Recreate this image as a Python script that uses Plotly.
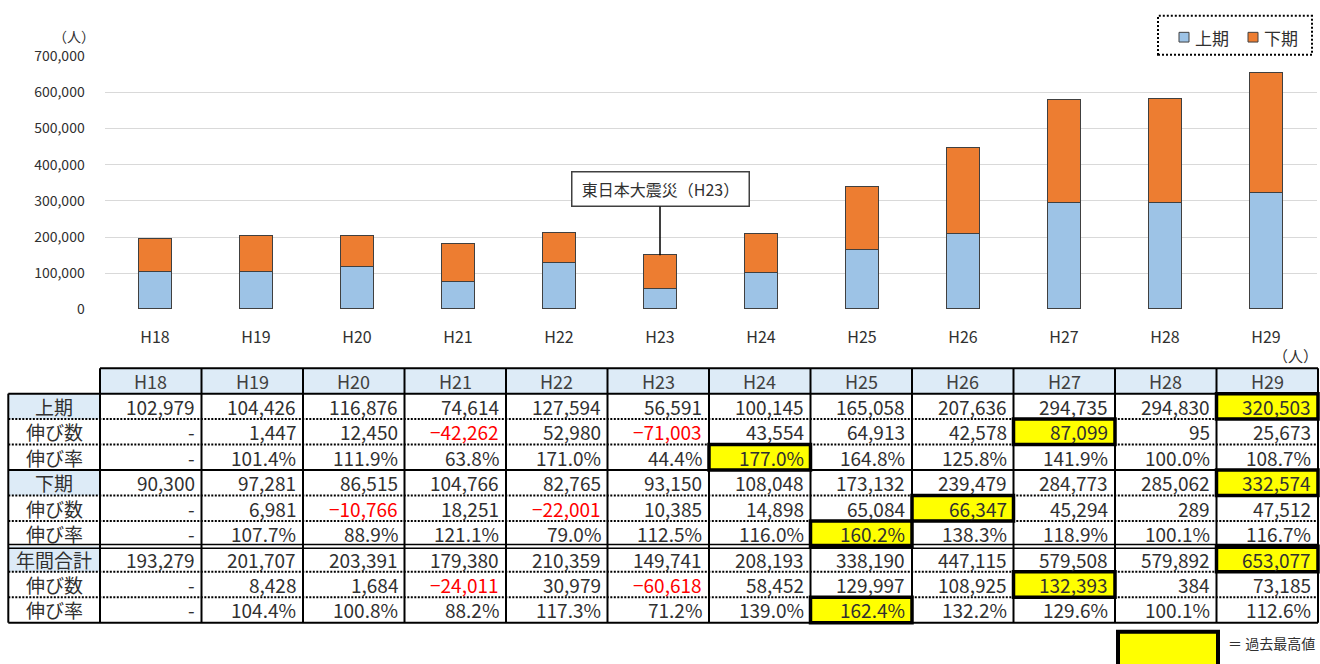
import plotly.graph_objects as go
import numpy as np

# ---------------- data ----------------
years = ['H18', 'H19', 'H20', 'H21', 'H22', 'H23', 'H24', 'H25', 'H26', 'H27', 'H28', 'H29']
kami = [102979, 104426, 116876, 74614, 127594, 56591, 100145, 165058, 207636, 294735, 294830, 320503]
kami_diff = [None, 1447, 12450, -42262, 52980, -71003, 43554, 64913, 42578, 87099, 95, 25673]
kami_rate = [None, 101.4, 111.9, 63.8, 171.0, 44.4, 177.0, 164.8, 125.8, 141.9, 100.0, 108.7]
shimo = [90300, 97281, 86515, 104766, 82765, 93150, 108048, 173132, 239479, 284773, 285062, 332574]
shimo_diff = [None, 6981, -10766, 18251, -22001, 10385, 14898, 65084, 66347, 45294, 289, 47512]
shimo_rate = [None, 107.7, 88.9, 121.1, 79.0, 112.5, 116.0, 160.2, 138.3, 118.9, 100.1, 116.7]
total = [193279, 201707, 203391, 179380, 210359, 149741, 208193, 338190, 447115, 579508, 579892, 653077]
total_diff = [None, 8428, 1684, -24011, 30979, -60618, 58452, 129997, 108925, 132393, 384, 73185]
total_rate = [None, 104.4, 100.8, 88.2, 117.3, 71.2, 139.0, 162.4, 132.2, 129.6, 100.1, 112.6]

row_labels = ['上期', '伸び数', '伸び率', '下期', '伸び数', '伸び率', '年間合計', '伸び数', '伸び率']
row_values = [kami, kami_diff, kami_rate, shimo, shimo_diff, shimo_rate, total, total_diff, total_rate]
row_kinds = ['num', 'num', 'pct', 'num', 'num', 'pct', 'num', 'num', 'pct']
main_rows = [0, 3, 6]
series_names = ['上期', '下期']

W, H = 1320, 664
FONT = '"Noto Sans CJK JP", "Noto Sans", sans-serif'
TXT = '#303030'
BLUE = '#9DC3E6'
ORANGE = '#ED7D31'
HEAD = '#DDEBF7'
YEL = '#FFFF00'
EDGE = '#404040'


def px_x(p):
    return p / W


def px_y(p):
    return 1 - p / H


fig = go.Figure()
fig.add_trace(go.Bar(x=years, y=kami, name=series_names[0], width=0.32, showlegend=False,
                     marker=dict(color=BLUE, line=dict(color=EDGE, width=1)),
                     xaxis='x', yaxis='y'))
fig.add_trace(go.Bar(x=years, y=shimo, name=series_names[1], width=0.32, showlegend=False,
                     marker=dict(color=ORANGE, line=dict(color=EDGE, width=1)),
                     xaxis='x', yaxis='y'))

# ---------------- table geometry (axis x2 / y2) ----------------
col_w = 101.5
x_left_px = 100.0
row_h = 26.24
y_top_px = 368.3
label_left = -(x_left_px - 8.3) / col_w
x2_range = [-x_left_px / col_w, (W - x_left_px) / col_w]
y2_range = [(H - y_top_px) / row_h, -y_top_px / row_h]
ncol = len(years)
nrow = len(row_labels)

shapes = []
annos = []

# fills
for j in range(ncol):
    shapes.append(dict(type='rect', xref='x2', yref='y2', x0=j, x1=j + 1, y0=0, y1=1,
                       fillcolor=HEAD, line=dict(width=0), layer='below'))
for r in main_rows:
    shapes.append(dict(type='rect', xref='x2', yref='y2', x0=label_left, x1=0, y0=r + 1, y1=r + 2,
                       fillcolor=HEAD, line=dict(width=0), layer='below'))
highlights = []
for i, vals in enumerate(row_values):
    arr = np.array([np.nan if v is None else v for v in vals], dtype=float)
    k = int(np.nanargmax(arr))
    highlights.append((i, k))
    shapes.append(dict(type='rect', xref='x2', yref='y2', x0=k, x1=k + 1, y0=i + 1, y1=i + 2,
                       fillcolor=YEL, line=dict(width=0), layer='below'))

# horizontal lines
solid = dict(color='black', width=2)
dotted = dict(color='black', width=2, dash='2px,1.5px')
shapes.append(dict(type='line', xref='x2', yref='y2', x0=0, x1=ncol, y0=0, y1=0, line=solid))
for b in range(1, nrow + 2):
    if b in (1, 4, nrow + 1):
        shapes.append(dict(type='line', xref='x2', yref='y2', x0=label_left, x1=ncol, y0=b, y1=b, line=solid))
    elif b == 7:
        for d in (-0.075, 0.075):
            shapes.append(dict(type='line', xref='x2', yref='y2', x0=label_left, x1=ncol,
                               y0=b + d, y1=b + d, line=dict(color='black', width=1.5)))
    else:
        shapes.append(dict(type='line', xref='x2', yref='y2', x0=label_left, x1=ncol, y0=b, y1=b, line=dotted))
# vertical lines
shapes.append(dict(type='line', xref='x2', yref='y2', x0=label_left, x1=label_left, y0=1, y1=nrow + 1, line=solid))
for j in range(ncol + 1):
    shapes.append(dict(type='line', xref='x2', yref='y2', x0=j, x1=j, y0=0, y1=nrow + 1, line=solid))
# highlight borders
for (i, k) in highlights:
    shapes.append(dict(type='rect', xref='x2', yref='y2', x0=k, x1=k + 1, y0=i + 1, y1=i + 2,
                       fillcolor='rgba(0,0,0,0)', line=dict(color='black', width=3.5)))

# header texts
for j, yname in enumerate(years):
    annos.append(dict(xref='x2', yref='y2', x=j + 0.5, y=0.5, text=yname, showarrow=False,
                      font=dict(family=FONT, size=18, color='#404040')))
# row labels and values
for i, (lab, vals, kind) in enumerate(zip(row_labels, row_values, row_kinds)):
    annos.append(dict(xref='x2', yref='y2', x=label_left / 2, y=i + 1.5, text=lab, showarrow=False,
                      font=dict(family=FONT, size=19, color=TXT)))
    for j, v in enumerate(vals):
        color = TXT
        if v is None:
            s = '-'
        elif kind == 'pct':
            s = f'{v:.1f}%'
        else:
            if v < 0:
                s = '−' + f'{abs(v):,}'
                color = '#FF0000'
            else:
                s = f'{v:,}'
        annos.append(dict(xref='x2', yref='y2', x=j + 1, y=i + 1.5, text=s, showarrow=False,
                          xanchor='right', xshift=-5,
                          font=dict(family=FONT, size=19, color=color)))

# earthquake callout
annos.append(dict(xref='x', yref='y', x='H23', y=kami[5] + shimo[5], text='東日本大震災（H23）',
                  showarrow=True, arrowhead=0, arrowwidth=1.5, arrowcolor='black',
                  ax=0, ay=-66, bordercolor=EDGE, borderwidth=1.5, bgcolor='white',
                  width=174, height=31, font=dict(family=FONT, size=16, color=TXT)))
# unit labels
annos.append(dict(xref='paper', yref='paper', x=px_x(97), y=px_y(26), xanchor='right', yanchor='middle',
                  text='（人）', showarrow=False, font=dict(family=FONT, size=14, color=TXT)))
annos.append(dict(xref='paper', yref='paper', x=px_x(1320), y=px_y(355), xanchor='right', yanchor='middle',
                  text='（人）', showarrow=False, font=dict(family=FONT, size=15, color=TXT)))
# highlight legend
shapes.append(dict(type='rect', xref='paper', yref='paper', x0=px_x(1118), x1=px_x(1218),
                   y0=px_y(690), y1=px_y(640), fillcolor=YEL, line=dict(color='black', width=4)))
annos.append(dict(xref='paper', yref='paper', x=px_x(1226), y=px_y(652), xanchor='left', yanchor='middle',
                  text='＝ 過去最高値', showarrow=False, font=dict(family=FONT, size=14, color=TXT)))
# legend (dotted frame + keys)
shapes.append(dict(type='rect', xref='paper', yref='paper', x0=px_x(1158), x1=px_x(1312),
                   y0=px_y(45), y1=px_y(5), line=dict(color='black', width=2, dash='2px,2px'),
                   fillcolor='rgba(0,0,0,0)'))
for name, col, kx in zip(series_names, [BLUE, ORANGE], [1179, 1248]):
    shapes.append(dict(type='rect', xref='paper', yref='paper', x0=px_x(kx), x1=px_x(kx + 10),
                       y0=px_y(32), y1=px_y(22), fillcolor=col, line=dict(color=EDGE, width=1)))
    annos.append(dict(xref='paper', yref='paper', x=px_x(kx + 14), y=px_y(27), xanchor='left',
                      yanchor='middle', text=name, showarrow=False,
                      font=dict(family=FONT, size=17, color=TXT)))

fig.update_layout(
    width=W, height=H, autosize=False,
    margin=dict(l=0, r=0, t=0, b=0),
    paper_bgcolor='white', plot_bgcolor='rgba(0,0,0,0)',
    barmode='stack', bargap=0,
    font=dict(family=FONT, color=TXT),
    showlegend=False,
    xaxis=dict(domain=[px_x(104.5), px_x(1316.5)], type='category', range=[-0.5, 11.5],
               showgrid=False, showline=False, zeroline=False,
               ticks='outside', ticklen=13, tickcolor='rgba(0,0,0,0)',
               tickfont=dict(family=FONT, size=16, color=TXT)),
    yaxis=dict(domain=[px_y(307.7), px_y(46.5)], range=[0, 700000], dtick=100000,
               tickformat=',', showgrid=True, gridcolor='#D9D9D9', gridwidth=1.2,
               zeroline=False, showline=False,
               ticks='outside', ticklen=16, tickcolor='rgba(0,0,0,0)',
               tickfont=dict(family=FONT, size=14, color=TXT)),
    xaxis2=dict(domain=[0, 1], range=x2_range, visible=False, anchor='y2', fixedrange=True),
    yaxis2=dict(domain=[0, 1], range=y2_range, visible=False, anchor='x2', fixedrange=True),
    shapes=shapes,
    annotations=annos,
)

post = (
    "var gd=document.getElementById('{plot_id}');"
    "gd.style.position='fixed';gd.style.left='0px';gd.style.top='0px';gd.style.zIndex='1000';"
    "var css='margin:0;padding:0;overflow:hidden;width:1320px;height:664px;';"
    "document.documentElement.style.cssText=css;document.body.style.cssText=css;"
)
fig.write_html('out.html', config={'displayModeBar': False}, post_script=post)
